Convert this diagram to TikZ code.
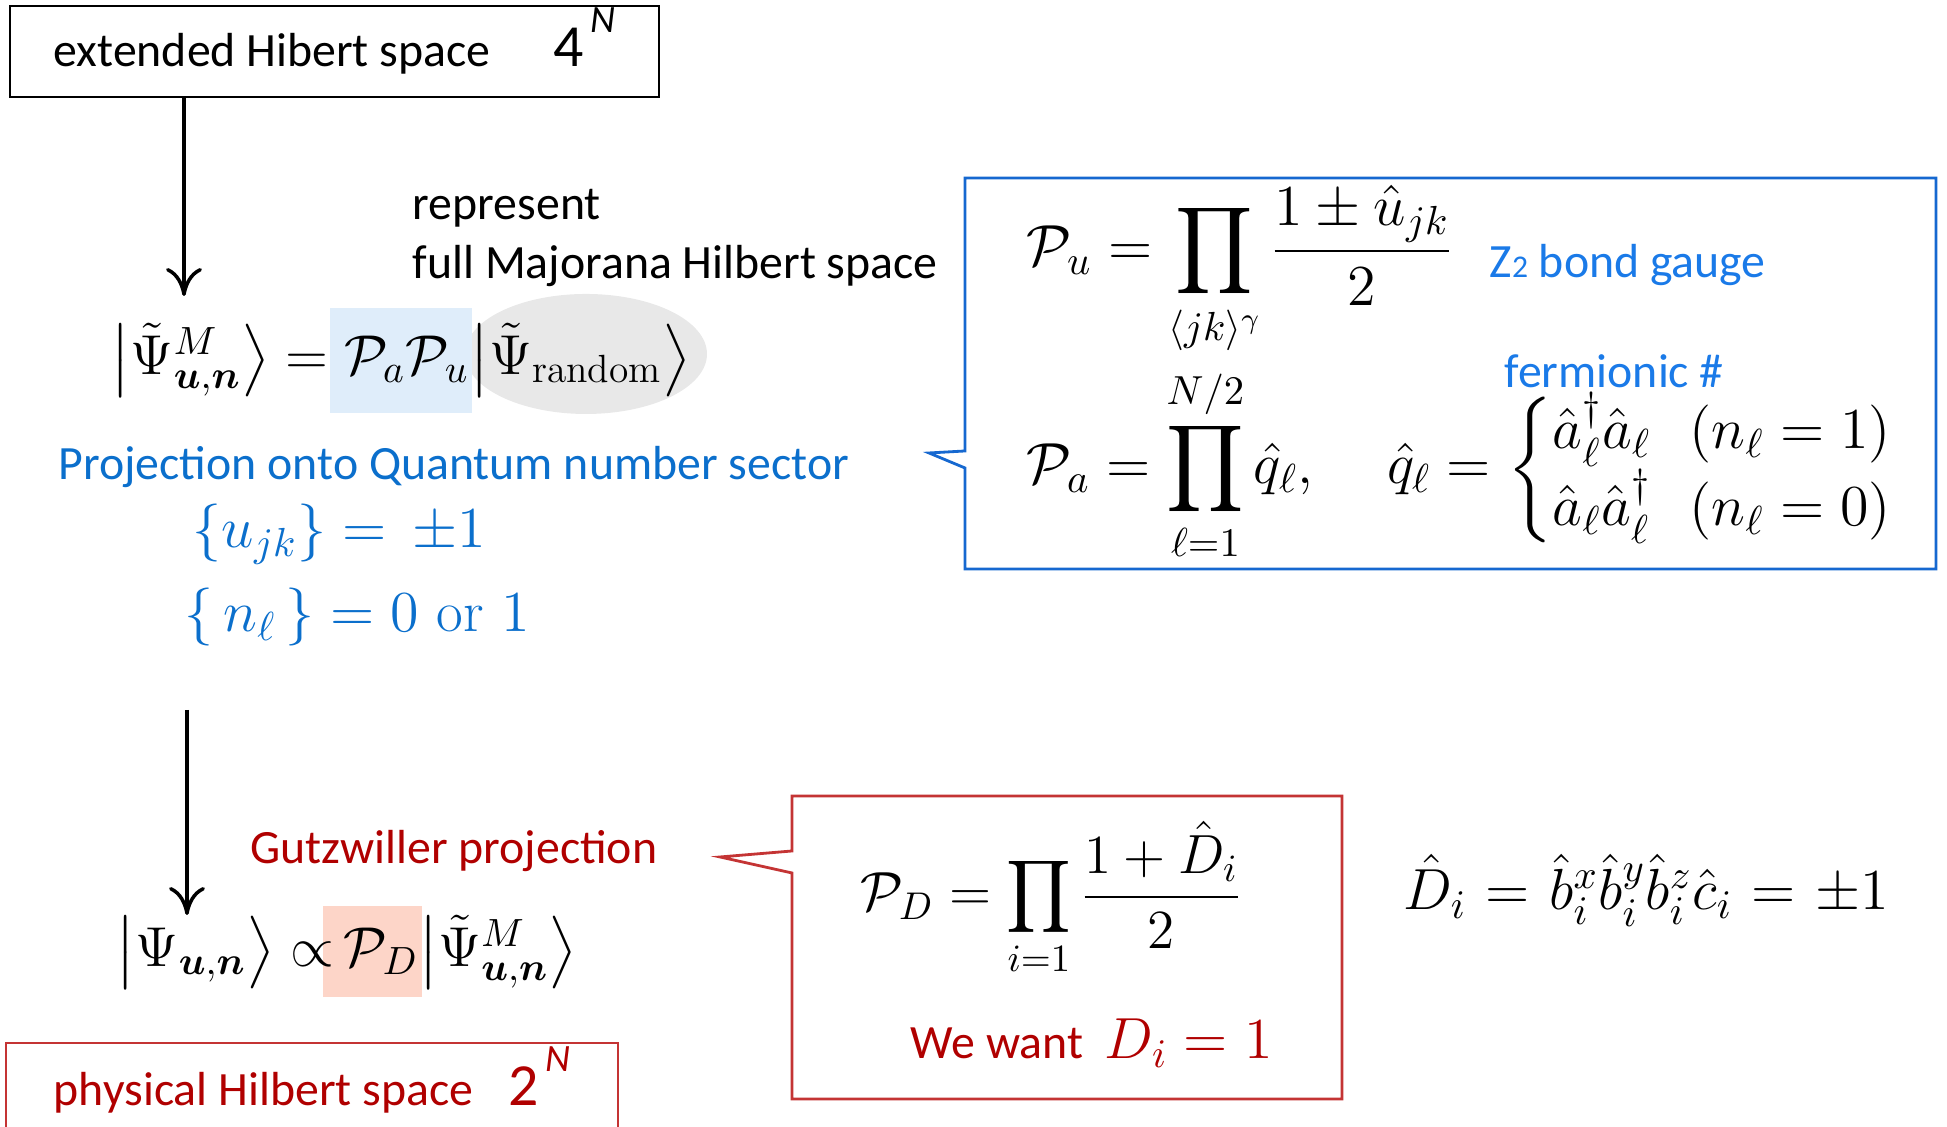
\RequirePackage{fix-cm}
\documentclass[tikz,border=0pt]{standalone}
\usepackage{amsmath}
\usepackage{fontspec}
\newfontfamily\carlito{Carlito}
\usetikzlibrary{arrows.meta,positioning,calc,backgrounds}
\definecolor{qblue}{HTML}{0B6FCC}
\definecolor{zblue}{HTML}{1A7AE8}
\definecolor{boxblue}{HTML}{1668D0}
\definecolor{gutred}{HTML}{B00000}
\definecolor{boxred}{HTML}{C43434}
\definecolor{hiblue}{HTML}{DFEDFA}
\definecolor{hired}{HTML}{FDD5C8}
\definecolor{ovgrey}{HTML}{E8E8E8}

\begin{document}
\begin{tikzpicture}[
  txt/.style={font=\carlito\fontsize{13.6}{17}\selectfont, inner sep=0pt, anchor=west, align=left},
  eqn/.style={font=\fontsize{16.5}{20}\selectfont, inner sep=0pt, anchor=west},
  keteqn/.style={eqn, font=\fontsize{16}{20}\selectfont},
  spacebox/.style={draw, line width=0.6pt, inner sep=0pt, font=\carlito\fontsize{13.6}{17}\selectfont},
  flowarr/.style={-{Computer Modern Rightarrow[length=2.8mm,width=3.6mm]}, line width=1pt},
  callout/.style={line width=0.8pt, line join=miter},
]
\useasboundingbox (0,0) rectangle (19.47,11.27);
% top and bottom spaces
\node[spacebox, minimum width=6.49cm, minimum height=0.91cm] (ext) at (3.345,10.755) {extended Hibert space\hspace{18pt}{\fontsize{17}{20}\selectfont 4}\smash{\raisebox{1.5ex}{\itshape\fontsize{11}{13}\selectfont\,N}}};
\node[spacebox, draw=boxred, text=gutred, minimum width=6.12cm, minimum height=0.94cm] (phys) at (3.12,0.37) {physical Hilbert space\hspace{10pt}{\fontsize{17}{20}\selectfont 2}\smash{\raisebox{1.5ex}{\itshape\fontsize{11}{13}\selectfont\,N}}};
% Majorana state
\node[txt] (rep) at (4.12,8.89) {represent\\full Majorana Hilbert space};
\fill[ovgrey] (5.86,7.73) ellipse [x radius=1.21cm, y radius=0.60cm];
\fill[hiblue] (3.30,8.19) rectangle (4.72,7.14);
\node[keteqn] (kM) at (1.10,7.67) {$\bigl|\tilde\Psi^{M}_{\boldsymbol{u},\boldsymbol{n}}\bigr\rangle = \mathcal{P}_a\mathcal{P}_u\bigl|\tilde\Psi_{\mathrm{random}}\bigr\rangle$};
\coordinate (a1e) at (1.84,8.31);
\draw[flowarr] (ext.south -| a1e) -- (a1e);
\node[txt, text=qblue] (proj) at (0.58,6.60) {Projection onto Quantum number sector};
\node[eqn, text=qblue] (usec) at (1.92,5.93) {$\{u_{jk}\} = \,\pm1$};
\node[eqn, text=qblue] (nsec) at (1.84,5.10) {$\{\,n_\ell\,\} = 0\ \mathrm{or}\ 1$};
% blue callout
\draw[callout, boxblue] (9.65,9.49) -- (19.36,9.49) -- (19.36,5.58) -- (9.65,5.58) -- (9.65,6.59) -- (9.29,6.74) -- (9.65,6.76) -- cycle;
\node[eqn] (Pu) at (10.26,8.56) {$\displaystyle \mathcal{P}_u = \prod_{\langle jk\rangle^\gamma}\frac{1\pm\hat u_{jk}}{2}$};
\node[txt, text=zblue] (zgauge) at (14.89,8.62) {Z{\fontsize{9}{10}\selectfont 2} bond gauge};
\node[txt, text=zblue] (fnum) at (15.04,7.56) {fermionic \#};
\node[eqn] (Pa) at (10.26,6.62) {$\displaystyle \mathcal{P}_a = \prod_{\ell=1}^{N/2}\hat q_\ell,\hspace{1.1em}\hat q_\ell = \left\{\begin{array}{@{}l@{\hspace{11pt}}l@{}} \hat a_\ell^\dagger\hat a_\ell & (n_\ell=1)\\ \hat a_\ell\hat a_\ell^\dagger & (n_\ell=0)\end{array}\right.$};
% Gutzwiller step
\coordinate (a2s) at (1.87,4.17);
\coordinate (a2e) at (1.87,2.12);
\draw[flowarr] (a2s) -- (a2e);
\node[txt, text=gutred] (gutz) at (2.50,2.76) {Gutzwiller projection};
\fill[hired] (3.23,2.21) rectangle (4.22,1.30);
\node[keteqn] (kphys) at (1.15,1.75) {$\bigl|\Psi_{\boldsymbol{u},\boldsymbol{n}}\bigr\rangle\;{\propto}\,\mathcal{P}_D\bigl|\tilde\Psi^{M}_{\boldsymbol{u},\boldsymbol{n}}\bigr\rangle$};
% red callout
\draw[callout, boxred] (7.92,3.31) -- (13.42,3.31) -- (13.42,0.28) -- (7.92,0.28) -- (7.92,2.54) -- (7.20,2.70) -- (7.92,2.76) -- cycle;
\node[eqn, font=\fontsize{15.7}{19}\selectfont] (PD) at (8.60,2.28) {$\displaystyle \mathcal{P}_D = \prod_{i=1}\frac{1+\hat D_i}{2}$};
\node[txt, text=gutred] (want) at (9.10,0.84) {We want\ \ {\fontsize{16.5}{20}\selectfont$D_i = 1$}};
\node[eqn] (Dop) at (14.03,2.37) {$\hat D_i \mkern1mu=\mkern1mu \hat b_i^x\hat b_i^y\hat b_i^z\hat c_i \mkern1mu=\mkern1mu \pm1$};
\end{tikzpicture}
\end{document}
